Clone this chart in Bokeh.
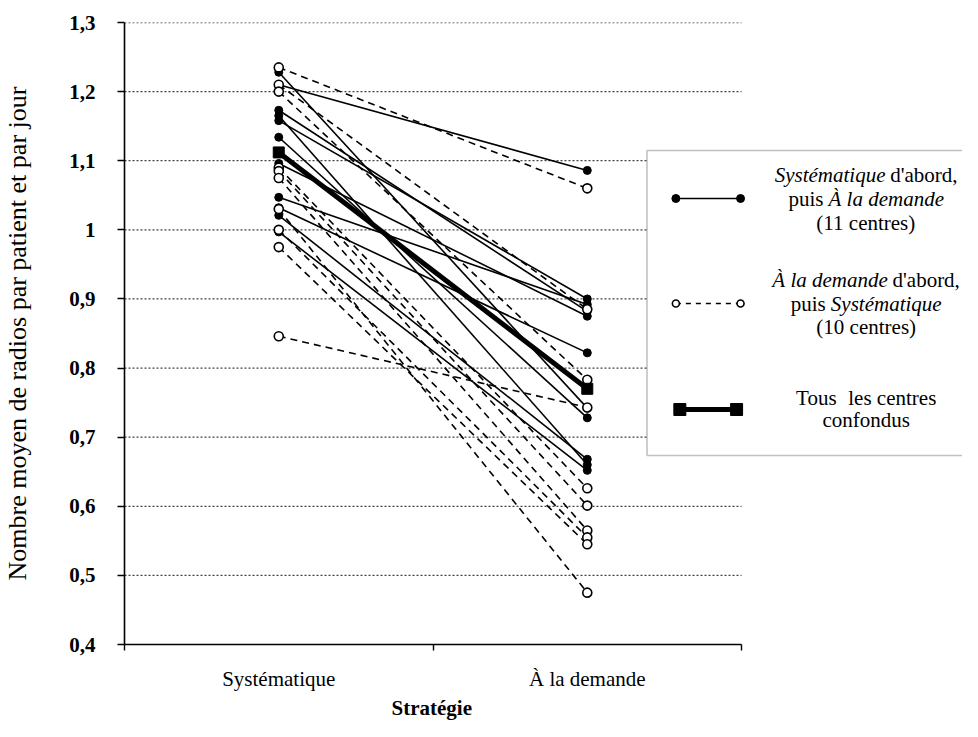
from bokeh.plotting import figure
from bokeh.models import FixedTicker, Label, BoxAnnotation, Range1d, Title
from bokeh.embed import file_html
from bokeh.resources import INLINE

# ---------------- data ----------------
categories = ["Systématique", "À la demande"]
x_title = "Stratégie"
y_title = "Nombre moyen de radios par patient et par jour"
y_ticks = [0.4, 0.5, 0.6, 0.7, 0.8, 0.9, 1.0, 1.1, 1.2, 1.3]
y_tick_labels = ["0,4", "0,5", "0,6", "0,7", "0,8", "0,9", "1", "1,1", "1,2", "1,3"]

# Systématique d'abord, puis À la demande (11 centres)
sys_first_syst = [1.210, 1.228, 1.173, 1.158, 1.134, 1.096, 1.047, 1.032, 1.021, 0.997, 1.165]
sys_first_dem = [1.086, 0.742, 0.882, 0.900, 0.728, 0.875, 0.892, 0.822, 0.668, 0.652, 0.660]
# À la demande d'abord, puis Systématique (10 centres)
dem_first_syst = [1.235, 1.210, 1.200, 1.090, 1.085, 1.075, 1.030, 1.000, 0.975, 0.846]
dem_first_dem = [1.060, 0.885, 0.783, 0.626, 0.601, 0.565, 0.475, 0.555, 0.545, 0.743]
# Tous les centres confondus
all_centres = [1.112, 0.770]

FONT = "Liberation Serif"

# ---------------- figure ----------------
W, H = 962, 721
LEFT, TOP, FRAME_B = 120, 22, 644
PX_PER_X = 310.0
p = figure(width=W, height=H,
           x_range=Range1d(0, (W - LEFT) / PX_PER_X), y_range=Range1d(0.4, 1.3),
           output_backend="svg", toolbar_location=None,
           min_border_left=LEFT, min_border_right=0, min_border_top=TOP,
           min_border_bottom=H - FRAME_B)
p.outline_line_color = None
p.background_fill_color = "white"

cat_pos = [i + 0.5 for i in range(len(categories))]
x_end = float(len(categories))

# x axis (category labels centred, boundary ticks as minor ticks)
p.xaxis.ticker = FixedTicker(ticks=cat_pos, minor_ticks=[float(i) for i in range(len(categories) + 1)])
p.xaxis.bounds = (0, x_end)
p.xaxis.major_label_overrides = {c: lab for c, lab in zip(cat_pos, categories)}
p.xaxis.major_tick_out = 0
p.xaxis.major_tick_in = 0
p.xaxis.minor_tick_out = 6
p.xaxis.minor_tick_in = 0
p.xaxis.major_label_standoff = 16
p.xaxis.major_label_text_font = FONT
p.xaxis.major_label_text_font_size = "21px"

# x axis title, centred under the category span
p.add_layout(Title(text=x_title, align="left", offset=267, standoff=0,
                   text_font=FONT, text_font_size="21px", text_font_style="bold",
                   text_color="black"), "below")

# y axis
p.yaxis.ticker = FixedTicker(ticks=y_ticks)
p.yaxis.major_label_overrides = {t: lab for t, lab in zip(y_ticks, y_tick_labels)}
p.yaxis.major_tick_out = 7
p.yaxis.major_tick_in = 0
p.yaxis.minor_tick_out = 0
p.yaxis.minor_tick_in = 0
p.yaxis.major_label_standoff = 22
p.yaxis.axis_label = y_title
p.yaxis.axis_label_standoff = 34
p.yaxis.axis_label_text_font = FONT
p.yaxis.axis_label_text_font_size = "26px"
p.yaxis.axis_label_text_font_style = "normal"
p.yaxis.major_label_text_font = FONT
p.yaxis.major_label_text_font_size = "21px"
p.yaxis.major_label_text_font_style = "bold"

for ax in (p.xaxis, p.yaxis):
    ax.axis_line_color = "black"
    ax.axis_line_width = 1.6
    ax.major_tick_line_color = "black"
    ax.minor_tick_line_color = "black"
    ax.major_tick_line_width = 1.4
    ax.minor_tick_line_width = 1.4
    ax.major_label_text_color = "black"
    ax.axis_label_text_color = "black"

p.xgrid.visible = False
p.ygrid.visible = False
# horizontal dotted grid lines limited to the category span
p.segment(x0=[0] * (len(y_ticks) - 1), x1=[x_end] * (len(y_ticks) - 1),
          y0=y_ticks[1:], y1=y_ticks[1:],
          line_color="#444444", line_dash="2 2", line_width=1.3)

x0, x1 = cat_pos

# ---------------- series ----------------
p.multi_line(xs=[[x0, x1] for _ in dem_first_syst],
             ys=[[a, b] for a, b in zip(dem_first_syst, dem_first_dem)],
             line_color="black", line_width=1.6, line_dash="7 5")
p.multi_line(xs=[[x0, x1] for _ in sys_first_syst],
             ys=[[a, b] for a, b in zip(sys_first_syst, sys_first_dem)],
             line_color="black", line_width=1.6)
p.line(x=cat_pos, y=all_centres, line_color="black", line_width=5)

p.scatter(x=[x0] * len(sys_first_syst) + [x1] * len(sys_first_dem),
          y=sys_first_syst + sys_first_dem, marker="circle", size=8,
          fill_color="black", line_color="black")
p.scatter(x=[x0] * len(dem_first_syst) + [x1] * len(dem_first_dem),
          y=dem_first_syst + dem_first_dem, marker="circle", size=9,
          fill_color="white", line_color="black", line_width=1.6)
p.scatter(x=cat_pos, y=all_centres, marker="square", size=11,
          fill_color="black", line_color="black")

# ---------------- legend (hand-drawn) ----------------
def lx(px):
    return (px - LEFT) / PX_PER_X

def ly(py):
    return 1.3 - (py - TOP) / ((FRAME_B - TOP) / 0.9)

box = BoxAnnotation(left=lx(645), right=lx(1000), top=ly(150), bottom=ly(455),
                    fill_color="white", fill_alpha=1.0, line_color="#333333", line_width=1.6)
p.add_layout(box)

lx_a, lx_b = lx(674), lx(739)
p.line(x=[lx_a, lx_b], y=[ly(198)] * 2, line_color="black", line_width=1.6, level="overlay")
p.scatter(x=[lx_a, lx_b], y=[ly(198)] * 2, marker="circle", size=8,
          fill_color="black", line_color="black", level="overlay")
p.line(x=[lx_a, lx_b], y=[ly(303)] * 2, line_color="black", line_width=1.6,
       line_dash="5 5", level="overlay")
p.scatter(x=[lx_a, lx_b], y=[ly(303)] * 2, marker="circle", size=7,
          fill_color="white", line_color="black", line_width=1.6, level="overlay")
p.line(x=[lx(678), lx(735)], y=[ly(409)] * 2, line_color="black", line_width=5, level="overlay")
p.scatter(x=[lx(678), lx(735)], y=[ly(409)] * 2, marker="square", size=12,
          fill_color="black", line_color="black", level="overlay")

# approximate Times metrics (per 1000 em) for centring mixed-style lines
ROMAN = {" ": 250, "'": 180, "(": 333, ")": 333, ",": 250, "0": 500, "1": 500,
         "a": 444, "b": 500, "c": 444, "d": 500, "e": 444, "f": 333, "i": 278, "l": 278,
         "m": 778, "n": 500, "o": 500, "p": 500, "q": 500, "r": 333, "s": 389, "t": 278,
         "u": 500, "y": 500, "é": 444, "S": 556, "T": 611, "À": 722}
ITALIC = {" ": 250, "a": 500, "d": 500, "e": 444, "é": 444, "i": 278, "l": 278, "m": 722,
          "n": 500, "q": 500, "s": 389, "t": 278, "u": 500, "y": 444, "S": 500, "À": 611}
LEG_FS = 21
LEG_CX = 865

def twidth(s, style):
    table = ITALIC if style == "italic" else ROMAN
    return sum(table.get(ch, 500) for ch in s) * LEG_FS / 1000.0

def legend_line(parts, py):
    total = sum(twidth(t, st) for t, st in parts)
    xpos = LEG_CX - total / 2.0
    for t, st in parts:
        stripped = t.lstrip(" ")
        lead = twidth(t[:len(t) - len(stripped)], st)
        p.add_layout(Label(x=lx(xpos + lead), y=ly(py), text=stripped.rstrip(" "), text_font=FONT,
                           text_font_size=f"{LEG_FS}px", text_font_style=st,
                           text_align="left", text_baseline="middle", text_color="black"))
        xpos += twidth(t, st)

legend_line([("Systématique", "italic"), (" d'abord,", "normal")], 174)
legend_line([("puis ", "normal"), ("À la demande", "italic")], 198)
legend_line([("(11 centres)", "normal")], 222)
legend_line([("À la demande", "italic"), (" d'abord,", "normal")], 279)
legend_line([("puis ", "normal"), ("Systématique", "italic")], 303)
legend_line([("(10 centres)", "normal")], 326)
legend_line([("Tous", "normal"), ("  les centres", "normal")], 397)
legend_line([("confondus", "normal")], 419)

html = file_html(p, INLINE)
with open("out.html", "w") as f:
    f.write(html)
